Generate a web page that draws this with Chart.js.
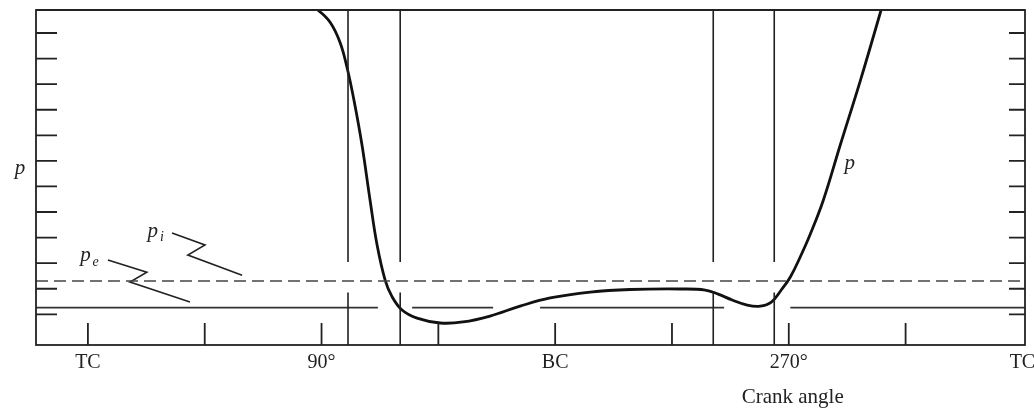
<!DOCTYPE html>
<html>
<head>
<meta charset="utf-8">
<script src="https://cdn.jsdelivr.net/npm/chart.js@4"></script>
<style>
  html, body { margin: 0; padding: 0; background: #fff; }
  canvas { display: block; }
</style>
</head>
<body>
<canvas id="crank" width="1034" height="408"></canvas>
<script>
// crank angle (deg, TC = 0) and cylinder pressure p (arbitrary units)
var angleMin = -20, angleMax = 361;
var pMin = -0.2, pMax = 12.9;

var angleTicks  = [0, 45, 90, 135, 180, 225, 270, 315];
var labelAngles = [0, 90, 180, 270, 360];
var labelTexts  = ['TC', '90°', 'BC', '270°', 'TC'];
var pTicks      = [1, 2, 3, 4, 5, 6, 7, 8, 9, 10, 11, 12];

// p curve
var curveAngle = [81.7, 88.65, 93.3, 97.1, 99.8, 102.5, 105.6, 108.7, 111.4, 114.5, 117.2, 121.0, 126.8,
                  135.7, 144.5, 154.9, 166.5, 178.1, 193.5, 208.9, 228.2, 237.8, 242.8, 248.2,
                  254.0, 259.0, 263.3, 267.1, 270.6, 274.4, 278.3, 283.3, 289.8, 297.6, 305.3, 307.6];
var curveP     = [13.35, 12.89, 12.42, 11.64, 10.66, 9.37, 7.61, 5.46, 3.71, 2.34, 1.68, 1.17, 0.85,
                  0.66, 0.70, 0.93, 1.32, 1.64, 1.87, 1.97, 1.99, 1.95, 1.79, 1.56,
                  1.36, 1.32, 1.48, 1.95, 2.46, 3.24, 4.14, 5.46, 7.61, 10.15, 12.81, 13.67];

// inlet (dashed) and exhaust (solid) pressure levels
var pInlet   = 2.30;
var pExhaust = 1.26;
var exhaustSegs = [[-20, 111.7], [124.9, 156.1], [174.2, 245.1], [270.6, 361.1]];

// valve timing lines, broken around the dashed line
var valveAngles = [100.2, 120.3, 240.9, 264.4];
var valveGap    = [1.85, 3.05];

// zigzag leaders for the labels
var leaderPi = [[32.4, 4.18], [45.1, 3.71], [38.5, 3.32], [59.4, 2.53]];
var leaderPe = [[7.7, 3.12], [22.7, 2.65], [16.2, 2.26], [39.3, 1.48]];

function pts(arr) {
    return arr.map(function (a) { return { x: a[0], y: a[1] }; });
}

var exhaustData = [];
exhaustSegs.forEach(function (s, i) {
    if (i > 0) exhaustData.push({ x: s[0], y: null });
    exhaustData.push({ x: s[0], y: pExhaust });
    exhaustData.push({ x: s[1], y: pExhaust });
});

var datasets = [];
valveAngles.forEach(function (a) {
    datasets.push({
        data: [{ x: a, y: pMax }, { x: a, y: valveGap[1] }, { x: a, y: null },
               { x: a, y: valveGap[0] }, { x: a, y: pMin }],
        borderColor: '#222', borderWidth: 1.6, spanGaps: false
    });
});
datasets.push({
    data: [{ x: angleMin, y: pInlet }, { x: angleMax, y: pInlet }],
    borderColor: '#444', borderWidth: 1.6, borderDash: [12, 6]
});
datasets.push({
    data: exhaustData, borderColor: '#333', borderWidth: 1.8, spanGaps: false
});
datasets.push({ data: pts(leaderPi), borderColor: '#222', borderWidth: 1.6 });
datasets.push({ data: pts(leaderPe), borderColor: '#222', borderWidth: 1.6 });
datasets.push({
    data: curveAngle.map(function (a, i) { return { x: a, y: curveP[i] }; }),
    borderColor: '#111', borderWidth: 2.8, tension: 0.4
});

var frame = {
    id: 'frame',
    afterDatasetsDraw: function (c) {
        var ctx = c.ctx, ca = c.chartArea, xs = c.scales.x, ys = c.scales.y;
        ctx.save();
        ctx.strokeStyle = '#222';
        ctx.lineWidth = 1.8;
        ctx.strokeRect(ca.left, ca.top, ca.right - ca.left, ca.bottom - ca.top);
        ctx.lineWidth = 2.2;
        ctx.beginPath();
        ctx.moveTo(ca.left, ca.top); ctx.lineTo(ca.right, ca.top);
        ctx.stroke();

        ctx.lineWidth = 1.8;
        ctx.beginPath();
        pTicks.forEach(function (v) {
            var y = ys.getPixelForValue(v);
            ctx.moveTo(ca.left, y); ctx.lineTo(ca.left + 21, y);
            ctx.moveTo(ca.right, y); ctx.lineTo(ca.right - 16, y);
        });
        angleTicks.forEach(function (v) {
            var x = xs.getPixelForValue(v);
            ctx.moveTo(x, ca.bottom); ctx.lineTo(x, ca.bottom - 22);
        });
        ctx.stroke();

        ctx.fillStyle = '#222';
        ctx.textAlign = 'center';
        ctx.textBaseline = 'middle';
        ctx.font = '20px "Liberation Serif"';
        labelAngles.forEach(function (v, i) {
            ctx.fillText(labelTexts[i], xs.getPixelForValue(v), ca.bottom + 18);
        });
        ctx.font = '21px "Liberation Serif"';
        ctx.fillText('Crank angle', xs.getPixelForValue(271.5), ca.bottom + 52);

        ctx.font = 'italic 21px "Liberation Serif"';
        ctx.fillText('p', 20, ys.getPixelForValue(6.7));
        ctx.fillText('p', xs.getPixelForValue(293.5), ys.getPixelForValue(6.9));
        ctx.textAlign = 'left';
        ctx.fillText('p', xs.getPixelForValue(23), ys.getPixelForValue(4.25));
        ctx.fillText('p', xs.getPixelForValue(-3), ys.getPixelForValue(3.3));
        ctx.font = 'italic 14px "Liberation Serif"';
        ctx.fillText('i', xs.getPixelForValue(27.8), ys.getPixelForValue(4.0));
        ctx.fillText('e', xs.getPixelForValue(1.8), ys.getPixelForValue(3.05));
        ctx.restore();
    }
};

new Chart(document.getElementById('crank'), {
    type: 'line',
    data: { datasets: datasets },
    options: {
        responsive: false,
        animation: false,
        layout: { padding: { left: 36, top: 10, right: 9, bottom: 63 } },
        elements: { point: { radius: 0 }, line: { tension: 0 } },
        datasets: { line: { clip: 0, fill: false } },
        plugins: { legend: { display: false }, tooltip: { enabled: false } },
        scales: {
            x: { type: 'linear', min: angleMin, max: angleMax, display: false },
            y: { type: 'linear', min: pMin, max: pMax, display: false }
        }
    },
    plugins: [frame]
});
</script>
</body>
</html>
